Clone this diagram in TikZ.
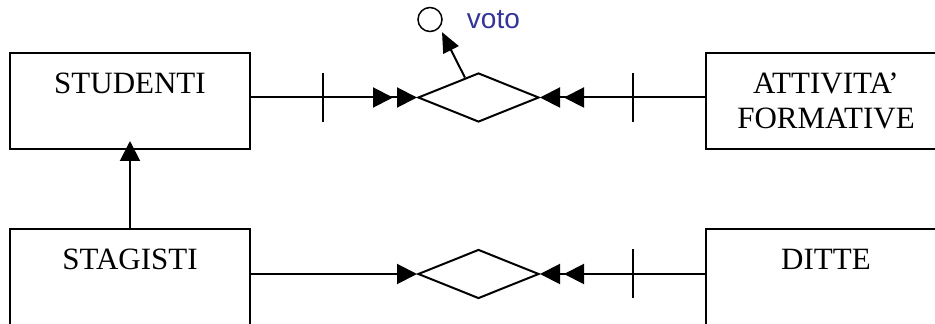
\documentclass[tikz,border=0pt]{standalone}
\usepackage{fontspec}
\setmainfont{Liberation Serif}
\newfontfamily\arialfont{Liberation Sans}
\usetikzlibrary{arrows.meta,positioning,shapes.geometric}
\usetikzlibrary{decorations,decorations.markings,calc}
\definecolor{votoblue}{RGB}{51,51,153}

\tikzset{
  entity/.style={draw, line width=2pt, minimum width=240pt, minimum height=96pt,
    inner sep=0pt, align=center, font=\fontsize{31}{35}\selectfont},
  relship/.style={draw, diamond, line width=2pt, minimum width=121pt,
    minimum height=49pt, inner sep=0pt},
  link/.style={line width=2pt},
  sgltip/.style={-{Triangle[length=20pt,width=20pt]}},
  dbltip/.style={-{Triangle[length=20pt,width=20pt,sep=4pt]Triangle[length=20pt,width=20pt]}},
  onetick/.style={postaction={decorate,decoration={markings,
    mark=at position 72pt with {\draw[-,line width=2pt] (0,-24.5pt) -- (0,24.5pt);}}}}
}

\begin{document}
\begin{tikzpicture}[x=1pt, y=1pt]
\clip (0,0) rectangle (935,324);

% entita'
\node[entity] (studenti) at (130,223) {STUDENTI\\\mbox{}};
\node[entity] (attivita) at (826,223) {ATTIVITA'\\FORMATIVE};
\node[entity] (stagisti) at (130,47) {STAGISTI\\\mbox{}};
\node[entity] (ditte) at (826,47) {DITTE\\\mbox{}};

% relazioni
\node[relship] (rel1) at (478.5,226.5) {};
\node[relship] (rel2) at (478.5,50) {};

% attributo
\node[circle, draw, line width=1.5pt, minimum size=24pt, inner sep=0pt] (votoatt) at (430,304.5) {};
\node[font=\arialfont\fontsize{28}{32}\selectfont, text=votoblue, inner sep=0pt,
  right=24pt of votoatt] (votolbl) {voto};

\draw[link,onetick,dbltip] (studenti.east |- rel1.west) -- (rel1.west);
\draw[link,onetick,dbltip] (attivita.west |- rel1.east) -- (rel1.east);
\draw[link,sgltip] (stagisti.east |- rel2.west) -- (rel2.west);
\draw[link,onetick,dbltip] (ditte.west |- rel2.east) -- (rel2.east);
\draw[link,sgltip,shorten >=-9pt] (stagisti.north) -- (studenti.south);
\draw[link,-{Triangle[length=20pt,width=17pt]},shorten >=5pt]
  ($(rel1.north)!0.22!(rel1.west)$) -- (votoatt.-40);
\end{tikzpicture}
\end{document}
